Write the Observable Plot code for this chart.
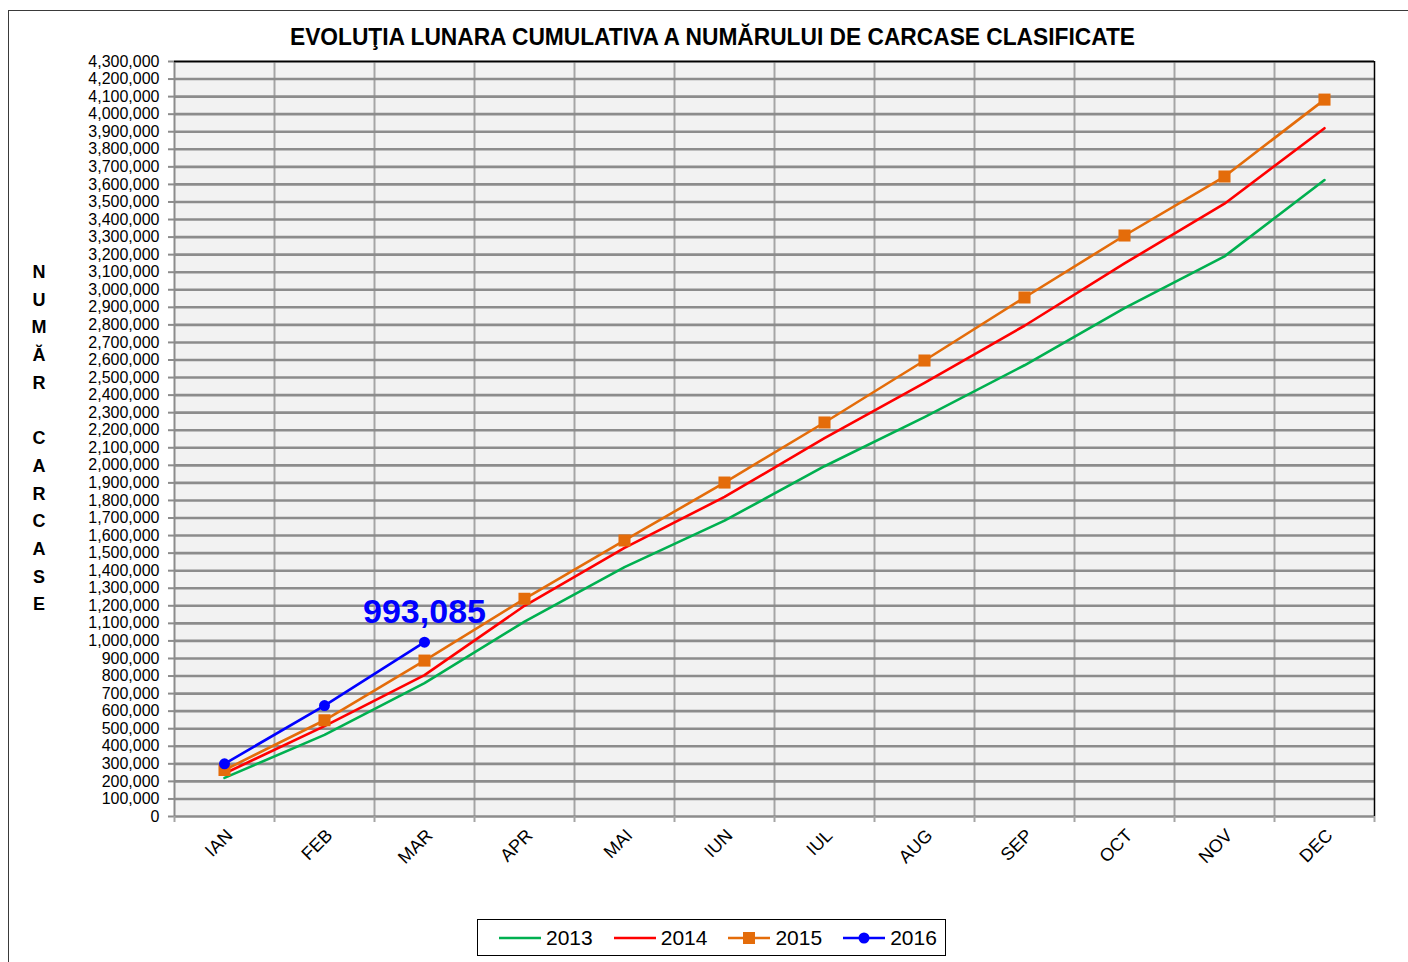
<!DOCTYPE html>
<html>
<head>
<meta charset="utf-8">
<script src="https://cdn.jsdelivr.net/npm/d3@7"></script>
<script src="https://cdn.jsdelivr.net/npm/@observablehq/plot@0.6"></script>
<style>
  html, body { margin: 0; padding: 0; background: #fff; overflow: hidden; }
  #wrap { position: relative; width: 1408px; height: 962px; font-family: "Liberation Sans", Arial, sans-serif; }
  #border { position: absolute; left: 8px; top: 10px; width: 1500px; height: 1000px; border: 1.5px solid #3a3a3a; box-sizing: border-box; }
  #title { position: absolute; left: 0; top: 0; }
  #ylabel { position: absolute; left: 26px; top: 259px; width: 26px; text-align: center; font-weight: bold; font-size: 18px; line-height: 27.7px; color: #000; }
  #chart { position: absolute; left: 0; top: 0; }
  #legend { position: absolute; left: 477px; top: 919px; width: 469px; height: 37px; border: 1.5px solid #000; box-sizing: border-box; background: #fff; display: flex; align-items: center; padding-left: 20px; font-size: 21px; color: #000; }
  .item { display: flex; align-items: center; margin-right: 20px; }
  .item svg { margin-right: 4px; }
</style>
</head>
<body>
<div id="wrap">
  <div id="border"></div>
  <div id="chart"></div>
  <svg id="title" width="1408" height="60"></svg>
  <div id="ylabel"></div>
  <div id="legend"></div>
</div>
<script>
const titleText = "EVOLUŢIA LUNARA  CUMULATIVA A NUMĂRULUI DE CARCASE CLASIFICATE";
const yTitle = ["N","U","M","Ă","R","\u00a0","C","A","R","C","A","S","E"];
const months = ["IAN","FEB","MAR","APR","MAI","IUN","IUL","AUG","SEP","OCT","NOV","DEC"];
const years = ["2013","2014","2015","2016"];
const v2013 = [220000, 465000, 760000, 1110000, 1420000, 1685000, 1995000, 2275000, 2570000, 2895000, 3190000, 3625000];
const v2014 = [245000, 515000, 805000, 1200000, 1530000, 1820000, 2155000, 2470000, 2795000, 3150000, 3490000, 3920000];
const v2015 = [265000, 548000, 888000, 1240000, 1572000, 1902000, 2244000, 2597000, 2956000, 3309000, 3645000, 4083000];
const v2016 = [300000, 632000, 993085];
const yTicks = d3.range(0, 4300001, 100000);

const colors = {"2013": "#00b050", "2014": "#ff0000", "2015": "#e46c0a", "2016": "#0000ff"};
const seriesValues = {"2013": v2013, "2014": v2014, "2015": v2015, "2016": v2016};
const rows = y => seriesValues[y].map((v, i) => ({year: y, month: months[i], idx: i + 0.5, value: v}));

// title
const tsvg = d3.select("#title");
tsvg.append("text")
  .attr("x", 290).attr("y", 45)
  .attr("textLength", 845).attr("lengthAdjust", "spacingAndGlyphs")
  .style("font-family", "'Liberation Sans', Arial, sans-serif")
  .style("font-weight", "bold").style("font-size", "24px")
  .text(titleText);

// y title
d3.select("#ylabel").selectAll("div").data(yTitle).join("div").text(d => d);

const fmt = d3.format(",");
const chart = Plot.plot({
  width: 1408,
  height: 900,
  marginLeft: 174,
  marginRight: 34,
  marginTop: 61,
  marginBottom: 84,
  x: {domain: [0, 12]},
  y: {domain: [0, 4300000]},
  style: {fontFamily: "'Liberation Sans', Arial, sans-serif", background: "transparent", color: "#000", overflow: "visible"},
  marks: [
    Plot.frame({fill: "#f2f2f2", stroke: null}),
    Plot.ruleX(d3.range(1, 12), {stroke: "#a5a5a5", strokeWidth: 2}),
    Plot.ruleY(yTicks, {stroke: "#8c8c8c", strokeWidth: 2.6}),
    Plot.ruleX([0], {stroke: "#8c8c8c", strokeWidth: 2}),
    Plot.ruleY([4300000], {stroke: "#000", strokeWidth: 1.5}),
    Plot.ruleX([12], {stroke: "#000", strokeWidth: 1.5}),
    Plot.axisY({ticks: yTicks, tickFormat: fmt, tickSize: 6, tickPadding: 9, fontSize: 16, stroke: "#8c8c8c", strokeWidth: 2, fill: "#000", label: null, style: {letterSpacing: "0.2px"}}),
    Plot.axisX({ticks: d3.range(0, 13), tickFormat: () => "", tickSize: 6, stroke: "#a5a5a5", strokeWidth: 2, label: null}),
    Plot.axisX({ticks: months.map((m, i) => i + 0.5), tickFormat: t => months[Math.floor(t)], tickSize: 0, tickPadding: 16, tickRotate: -45, dx: 5, fontSize: 18, fill: "#000", label: null}),
    Plot.line(rows("2013"), {x: "idx", y: "value", stroke: colors["2013"], strokeWidth: 2.6}),
    Plot.line(rows("2014"), {x: "idx", y: "value", stroke: colors["2014"], strokeWidth: 2.6}),
    Plot.line(rows("2015"), {x: "idx", y: "value", stroke: colors["2015"], strokeWidth: 2.6}),
    Plot.dot(rows("2015"), {x: "idx", y: "value", symbol: "square", fill: colors["2015"], r: 6.8}),
    Plot.line(rows("2016"), {x: "idx", y: "value", stroke: colors["2016"], strokeWidth: 2.6}),
    Plot.dot(rows("2016"), {x: "idx", y: "value", fill: colors["2016"], r: 5.5}),
    Plot.text(rows("2016").slice(-1), {x: "idx", y: "value", text: d => fmt(d.value), fill: colors["2016"], fontSize: 34, fontWeight: "bold", lineAnchor: "bottom", dy: -19})
  ]
});
document.getElementById("chart").appendChild(chart);

// legend
const legend = d3.select("#legend");
years.forEach(y => {
  const item = legend.append("div").attr("class", "item");
  const s = item.append("svg").attr("width", 44).attr("height", 20);
  s.append("line").attr("x1", 1).attr("x2", 43).attr("y1", 10).attr("y2", 10)
    .attr("stroke", colors[y]).attr("stroke-width", 2.6);
  if (y === "2015") s.append("rect").attr("x", 16).attr("y", 4).attr("width", 12).attr("height", 12).attr("fill", colors[y]);
  if (y === "2016") s.append("circle").attr("cx", 22).attr("cy", 10).attr("r", 5.5).attr("fill", colors[y]);
  item.append("span").text(y);
});
</script>
</body>
</html>
